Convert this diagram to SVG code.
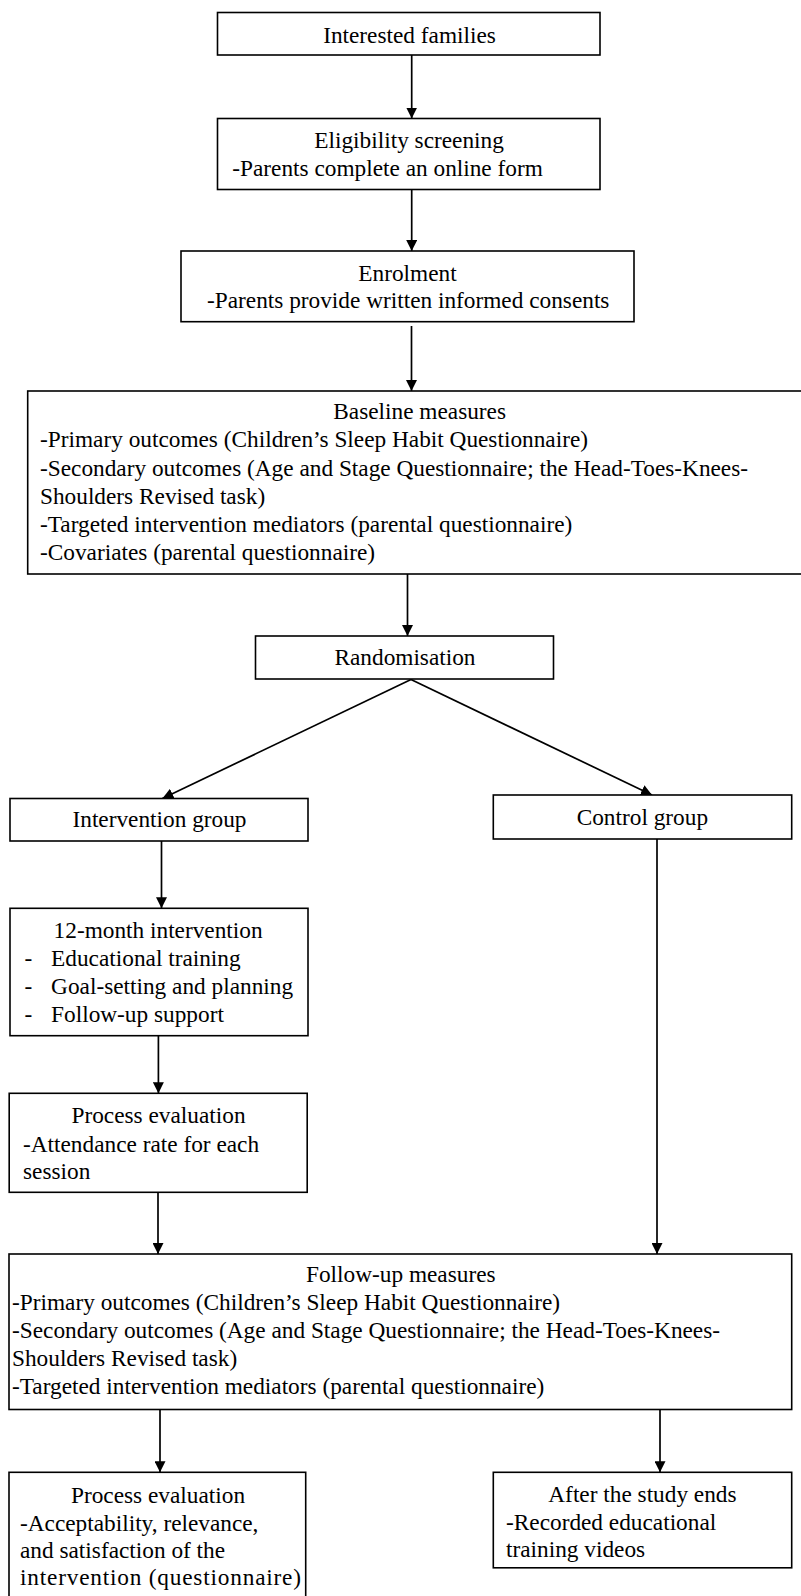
<svg xmlns="http://www.w3.org/2000/svg" width="801" height="1596" viewBox="0 0 801 1596">
<style>
.box{fill:#fff;stroke:#000;stroke-width:1.6}
.t{font-family:"Liberation Serif","Times New Roman",serif;font-size:23.3px;fill:#000}
.c{text-anchor:middle}
.ln{fill:none;stroke:#000;stroke-width:1.7}
</style>
<defs>
<marker id="ah" markerUnits="userSpaceOnUse" markerWidth="11" markerHeight="11" refX="11" refY="5.5" orient="auto">
<path d="M0,0 L11,5.5 L0,11 z" fill="#000"/>
</marker>
</defs>
<rect width="801" height="1596" fill="#fff"/>
<g id="connectors">
<line class="ln" x1="411.7" y1="55" x2="411.7" y2="118.5" marker-end="url(#ah)"/>
<line class="ln" x1="411.7" y1="189.5" x2="411.7" y2="251" marker-end="url(#ah)"/>
<line class="ln" x1="411.5" y1="326" x2="411.5" y2="391" marker-end="url(#ah)"/>
<line class="ln" x1="407.5" y1="574" x2="407.5" y2="636" marker-end="url(#ah)"/>
<line class="ln" x1="411" y1="679.5" x2="162.4" y2="798.5" marker-end="url(#ah)"/>
<line class="ln" x1="411" y1="679.5" x2="652" y2="795" marker-end="url(#ah)"/>
<line class="ln" x1="161.5" y1="841" x2="161.5" y2="908.3" marker-end="url(#ah)"/>
<line class="ln" x1="158.4" y1="1031.5" x2="158.4" y2="1093.3" marker-end="url(#ah)"/>
<line class="ln" x1="158" y1="1192.3" x2="158" y2="1254" marker-end="url(#ah)"/>
<line class="ln" x1="657" y1="839" x2="657" y2="1254" marker-end="url(#ah)"/>
<line class="ln" x1="160" y1="1409.5" x2="160" y2="1472.3" marker-end="url(#ah)"/>
<line class="ln" x1="660" y1="1409.5" x2="660" y2="1472.3" marker-end="url(#ah)"/>
</g>
<g id="interested">
<rect class="box" x="217.5" y="12.5" width="382.5" height="42.5"/>
<text class="t c" x="409.5" y="42.5">Interested families</text>
</g>
<g id="eligibility">
<rect class="box" x="217.5" y="118.5" width="382.5" height="71"/>
<text class="t" x="314.3" y="148.3">Eligibility screening</text>
<text class="t" x="232.3" y="176">-Parents complete an online form</text>
</g>
<g id="enrolment">
<rect class="box" x="181" y="251" width="453" height="70.7"/>
<text class="t" x="358.3" y="281">Enrolment</text>
<text class="t" x="207" y="308.3">-Parents provide written informed consents</text>
</g>
<g id="baseline">
<rect class="box" x="27.7" y="391" width="775" height="183"/>
<text class="t" x="333.3" y="418.5">Baseline measures</text>
<text class="t" x="40" y="447">-Primary outcomes (Children’s Sleep Habit Questionnaire)</text>
<text class="t" x="40" y="475.5">-Secondary outcomes (Age and Stage Questionnaire; the Head-Toes-Knees-</text>
<text class="t" x="40" y="503.5">Shoulders Revised task)</text>
<text class="t" x="40" y="531.5">-Targeted intervention mediators (parental questionnaire)</text>
<text class="t" x="40" y="560">-Covariates (parental questionnaire)</text>
</g>
<g id="randomisation">
<rect class="box" x="255.5" y="636" width="298" height="43"/>
<text class="t c" x="405" y="665">Randomisation</text>
</g>
<g id="intervention-group">
<rect class="box" x="10" y="798.5" width="298" height="42.5"/>
<text class="t c" x="159.5" y="827">Intervention group</text>
</g>
<g id="control-group">
<rect class="box" x="493.3" y="795" width="298.4" height="44"/>
<text class="t" x="576.7" y="825">Control group</text>
</g>
<g id="intervention-12m">
<rect class="box" x="10" y="908.3" width="298" height="127.4"/>
<text class="t" x="53.6" y="938.3">12-month intervention</text>
<text class="t" x="24.5" y="966">-</text>
<text class="t" x="51.1" y="966">Educational training</text>
<text class="t" x="24.5" y="994">-</text>
<text class="t" x="51.1" y="994">Goal-setting and planning</text>
<text class="t" x="24.5" y="1022">-</text>
<text class="t" x="51.1" y="1022">Follow-up support</text>
</g>
<g id="process-eval-1">
<rect class="box" x="9.2" y="1093.3" width="298" height="99"/>
<text class="t" x="71.5" y="1123.3">Process evaluation</text>
<text class="t" x="23" y="1151.5">-Attendance rate for each</text>
<text class="t" x="23" y="1178.5">session</text>
</g>
<g id="follow-up">
<rect class="box" x="9" y="1254" width="782.7" height="155.5"/>
<text class="t" x="306" y="1281.5">Follow-up measures</text>
<text class="t" x="12" y="1309.5">-Primary outcomes (Children’s Sleep Habit Questionnaire)</text>
<text class="t" x="12" y="1337.5">-Secondary outcomes (Age and Stage Questionnaire; the Head-Toes-Knees-</text>
<text class="t" x="12" y="1365.5">Shoulders Revised task)</text>
<text class="t" x="12" y="1393.5">-Targeted intervention mediators (parental questionnaire)</text>
</g>
<g id="process-eval-2">
<rect class="box" x="9" y="1472.3" width="296.7" height="130"/>
<text class="t" x="71" y="1503">Process evaluation</text>
<text class="t" x="20" y="1531">-Acceptability, relevance,</text>
<text class="t" x="20" y="1558">and satisfaction of the</text>
<text class="t" x="20" y="1585" textLength="281" lengthAdjust="spacing">intervention (questionnaire)</text>
</g>
<g id="after-study">
<rect class="box" x="493.3" y="1472.3" width="298.4" height="95.5"/>
<text class="t" x="548.3" y="1501.5">After the study ends</text>
<text class="t" x="506" y="1529.5">-Recorded educational</text>
<text class="t" x="506" y="1557">training videos</text>
</g>
</svg>
